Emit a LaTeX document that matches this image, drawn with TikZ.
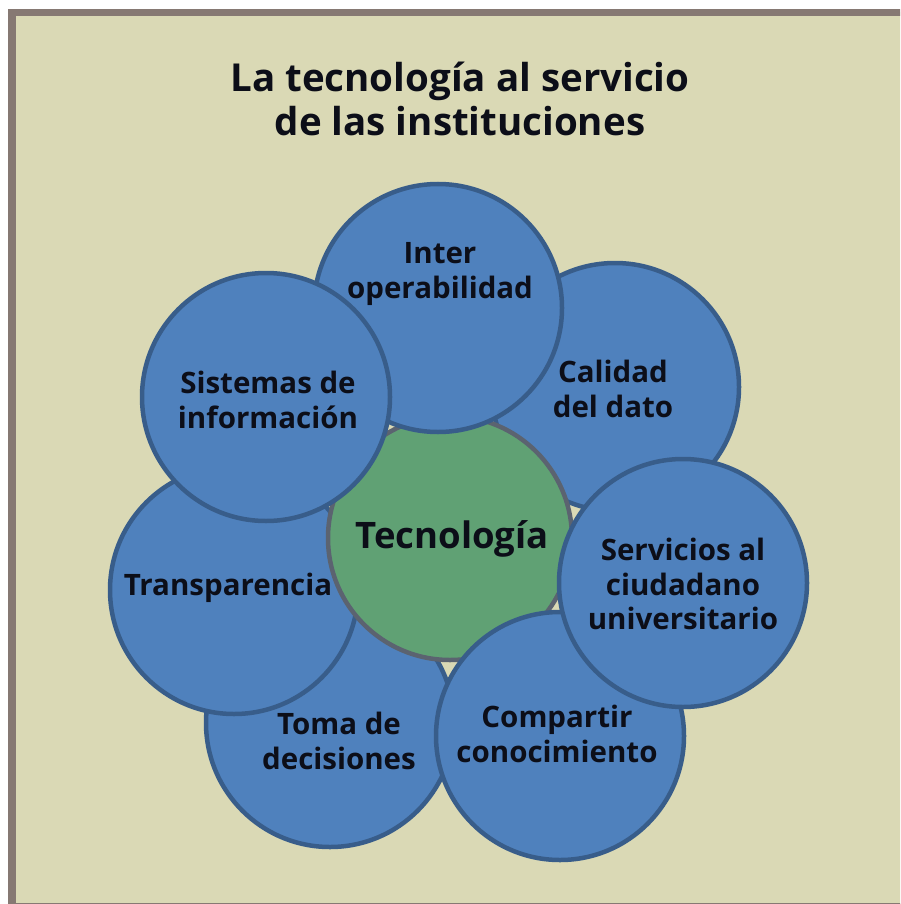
\documentclass[tikz,border=0pt]{standalone}
\usepackage{fontspec}
\setmainfont{Open Sans}
\definecolor{bgbeige}{RGB}{218,217,181}
\definecolor{framec}{RGB}{134,121,115}
\definecolor{bluefill}{RGB}{79,129,189}
\definecolor{blueline}{RGB}{56,93,138}
\definecolor{greenfill}{RGB}{96,161,116}
\definecolor{greenline}{RGB}{91,99,112}
\definecolor{txt}{RGB}{12,14,24}
\tikzset{
  bubble/.style={circle, draw=blueline, fill=bluefill, line width=4.5pt, minimum size=248pt, inner sep=0pt},
  core/.style={circle, draw=greenline, fill=greenfill, line width=4.5pt, minimum size=244pt, inner sep=0pt},
  label/.style={align=center, text=txt, font=\bfseries\fontsize{29.5}{34.5}\selectfont, inner sep=0pt},
  title/.style={align=center, text=txt, font=\bfseries\fontsize{38.5}{44}\selectfont, inner sep=0pt},
  frame/.style={draw=framec, fill=bgbeige, line width=7.5pt}
}
\begin{document}
\begin{tikzpicture}[x=1pt,y=-1pt]
\useasboundingbox (0,0) rectangle (900,904);
\clip (0,0) rectangle (900,904);
\fill[white] (0,0) rectangle (900,904);
\draw[frame] (12,12.5) rectangle (906,907);
% circles, back to front
\node[bubble] (cal) at (615,387) {};
\node[bubble] (toma) at (330,723) {};
\node[bubble] (trans) at (234,590) {};
\node[core] (tec) at (450,538) {};
\node[bubble] (comp) at (560,736) {};
\node[bubble] (serv) at (683,583) {};
\node[bubble] (inter) at (438,308) {};
\node[bubble] (sis) at (266,397) {};
% texts
\node[title] (t) at (460,99) {La tecnología al servicio\\de las instituciones};
\node[label] (linter) at (440,274) {Inter\\operabilidad};
\node[label] (lcal) at (613,389) {Calidad\\del dato};
\node[label] (lsis) at (268,400) {Sistemas de\\información};
\node[label, font=\bfseries\fontsize{36.5}{42}\selectfont] (ltec) at (452,539) {Tecnología};
\node[label] (ltrans) at (228,588) {Transparencia};
\node[label] (lserv) at (683,584) {Servicios al\\ciudadano\\universitario};
\node[label] (ltoma) at (339,741) {Toma de\\decisiones};
\node[label] (lcomp) at (557,734) {Compartir\\conocimiento};
\end{tikzpicture}
\end{document}
